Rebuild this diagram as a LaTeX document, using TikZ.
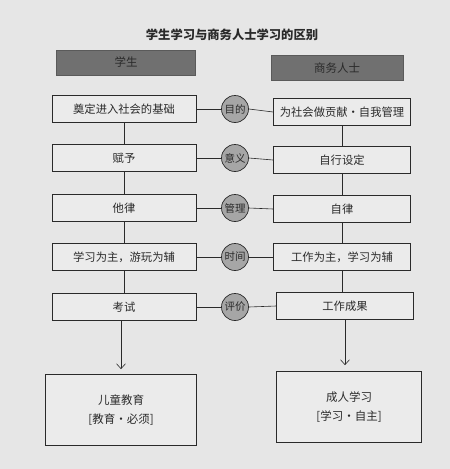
\documentclass[tikz,border=0pt]{standalone}
\usepackage{fontspec}
\setmainfont{Noto Sans CJK SC}
\usetikzlibrary{arrows.meta}
\definecolor{pagebg}{HTML}{E6E6E6}
\definecolor{boxbg}{HTML}{EBEBEB}
\definecolor{headbg}{HTML}{707070}
\definecolor{circbg}{HTML}{A6A6A6}
\definecolor{ink}{HTML}{2A2A2A}
\begin{document}
\begin{tikzpicture}[x=1pt,y=-1pt,
  every node/.style={text=ink, inner sep=0pt},
  head/.style={rectangle, fill=headbg, draw=headbg!80!black, line width=0.4pt, minimum height=25pt, font=\fontsize{11.5}{13}\selectfont},
  lbox/.style={rectangle, draw=ink, fill=boxbg, line width=0.7pt, minimum width=144pt, minimum height=27pt, font=\fontsize{11.3}{13}\selectfont},
  rbox/.style={rectangle, draw=ink, fill=boxbg, line width=0.7pt, minimum width=137pt, minimum height=27pt, font=\fontsize{11.3}{13}\selectfont},
  endbox/.style={rectangle, draw=ink, fill=boxbg, line width=0.7pt, minimum height=71pt, align=center, font=\fontsize{11.5}{19}\selectfont},
  circ/.style={circle, draw=ink, fill=circbg, line width=0.7pt, minimum size=27pt, font=\fontsize{10.5}{12}\selectfont},
  link/.style={draw=ink, line width=0.6pt},
  arr/.style={draw=ink, line width=0.6pt, -{Straight Barb[length=5pt,width=9pt]}}
]
\fill[pagebg] (0,0) rectangle (450,469);
\useasboundingbox (0,0) rectangle (450,469);

\node (title) at (232,35) {\fontsize{12.3}{14}\selectfont\bfseries 学生学习与商务人士学习的区别};
\node[head, minimum width=139pt] (hl) at (126,62.5) {学生};
\node[head, minimum width=132pt] (hr) at (337,68) {商务人士};

\node[lbox] (l1) at (124,109) {奠定进入社会的基础};
\node[lbox] (l2) at (124,158) {赋予};
\node[lbox] (l3) at (124,208) {他律};
\node[lbox] (l4) at (124,257) {学习为主，游玩为辅};
\node[lbox] (l5) at (124,307) {考试};

\node[circ] (c1) at (235,109) {目的};
\node[circ] (c2) at (235,158) {意义};
\node[circ] (c3) at (235,208) {管理};
\node[circ] (c4) at (235,257) {时间};
\node[circ] (c5) at (235,307) {评价};

\node[rbox] (r1) at (342,112) {为社会做贡献・自我管理};
\node[rbox] (r2) at (342,160) {自行设定};
\node[rbox] (r3) at (342,209) {自律};
\node[rbox] (r4) at (342,257) {工作为主，学习为辅};
\node[rbox] (r5) at (345,306) {工作成果};

\node[endbox, minimum width=151pt] (bl) at (121,410) {儿童教育\\{[}教育・必须{]}};
\node[endbox, minimum width=145pt] (br) at (349,407) {成人学习\\{[}学习・自主{]}};

\foreach \i in {1,...,5} {
  \draw[link] (l\i.east) -- (c\i.west);
  \draw[link] (c\i.east) -- (r\i.west);
}
\foreach \a/\b in {l1/l2,l2/l3,l3/l4,l4/l5,r1/r2,r2/r3,r3/r4} {
  \draw[link] (\a.south) -- (\b.north);
}
\draw[link] (r4.south) -- (r4.south |- r5.north);
\draw[arr, shorten >=5pt] (l5.south -| bl.north) -- (bl.north);
\draw[arr, shorten >=6pt] (r5.south) -- (r5.south |- br.north);
\end{tikzpicture}
\end{document}
